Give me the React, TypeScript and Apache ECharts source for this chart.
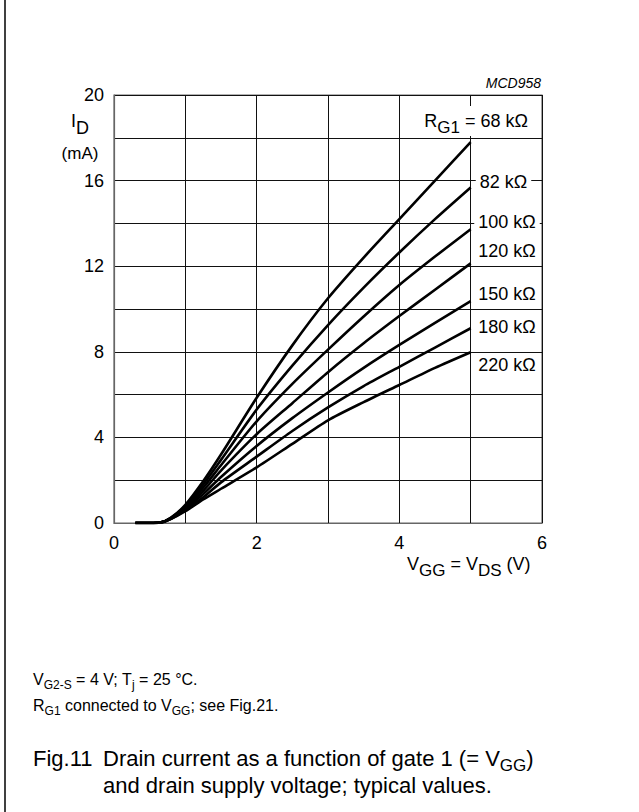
import React, { useEffect, useRef } from 'react';
import * as echarts from 'echarts';

// V_GG = V_DS (V)
const vgg = [0.3, 0.5, 0.65, 0.8, 1.0, 1.25, 1.5, 2.0, 2.5, 3.0, 3.5, 4.0, 4.5, 5.0];
// I_D (mA) for each R_G1
const id68 = [0, 0, 0.02, 0.25, 0.85, 1.95, 3.2, 5.85, 8.3, 10.5, 12.4, 14.2, 16.0, 17.8];
const id82 = [0, 0, 0.02, 0.24, 0.8, 1.8, 2.95, 5.3, 7.35, 9.25, 11.0, 12.64, 14.2, 15.68];
const id100 = [0, 0, 0.02, 0.23, 0.75, 1.65, 2.7, 4.75, 6.5, 8.1, 9.65, 11.12, 12.45, 13.73];
const id120 = [0, 0, 0.02, 0.22, 0.7, 1.5, 2.45, 4.15, 5.6, 7.05, 8.4, 9.67, 10.9, 12.13];
const id150 = [0, 0, 0.02, 0.21, 0.65, 1.35, 2.15, 3.6, 4.9, 6.1, 7.25, 8.32, 9.35, 10.37];
const id180 = [0, 0, 0.02, 0.2, 0.6, 1.2, 1.9, 3.1, 4.3, 5.4, 6.4, 7.3, 8.2, 9.1];
const id220 = [0, 0, 0.02, 0.19, 0.55, 1.1, 1.6, 2.6, 3.7, 4.8, 5.65, 6.45, 7.25, 7.98];

const curveNames = ['68 kΩ', '82 kΩ', '100 kΩ', '120 kΩ', '150 kΩ', '180 kΩ', '220 kΩ'];
const curveValues = [id68, id82, id100, id120, id150, id180, id220];

const xTickLabels = ['0', '2', '4', '6'];
const yTickLabels = ['0', '4', '8', '12', '16', '20'];

const FONT = '"Liberation Sans", Arial, Helvetica, sans-serif';

export default function App() {
  const ref = useRef<HTMLDivElement>(null);

  useEffect(() => {
    if (!ref.current) return;
    const chart = echarts.init(ref.current, null, { renderer: 'svg', width: 639, height: 812 });

    const series = curveValues.map((vals, k) => ({
      name: curveNames[k],
      type: 'line',
      data: vgg.map((x, i) => [x, vals[i]]),
      showSymbol: false,
      symbol: 'none',
      smooth: 0.25,
      silent: true,
      z: 3,
      lineStyle: { color: '#000', width: 2.6 },
    }));

    const labelY = [0, 181.5, 221.7, 250.7, 294, 327.3, 365];

    const curveLabels = curveNames.slice(1).map((name, i) => ({
      type: 'text',
      x: i === 0 ? 503.5 : 507,
      y: labelY[i + 1],
      z: 50,
      style: {
        text: name,
        fontSize: 18,
        fontFamily: FONT,
        fill: '#000',
        align: 'center',
        verticalAlign: 'middle',
        backgroundColor: '#fff',
        padding: [2, 4],
      },
    }));

    const subRich = (n: number, s: number, ln: number, ls: number) => ({
      n: { fontSize: n, lineHeight: ln, verticalAlign: 'middle', fontFamily: FONT },
      s: { fontSize: s, lineHeight: ls, verticalAlign: 'bottom', fontFamily: FONT },
    });

    chart.setOption({
      animation: false,
      backgroundColor: '#fff',
      grid: {
        left: 114,
        top: 95,
        right: 97,
        bottom: 289,
        show: true,
        borderColor: '#666',
        borderWidth: 1.2,
        backgroundColor: 'transparent',
      },
      xAxis: {
        type: 'value',
        min: 0,
        max: 6,
        interval: 1,
        axisLine: { show: true, lineStyle: { color: '#666', width: 1.2 } },
        axisTick: { show: false },
        axisLabel: {
          showMinLabel: true,
          showMaxLabel: true,
          formatter: (v: number) => (xTickLabels.includes(String(v)) ? String(v) : ''),
          fontSize: 18,
          fontFamily: FONT,
          color: '#000',
          margin: 11,
        },
        splitLine: { show: true, lineStyle: { color: '#111', width: 1 } },
      },
      yAxis: {
        type: 'value',
        min: 0,
        max: 20,
        interval: 2,
        axisLine: { show: true, lineStyle: { color: '#666', width: 1.2 } },
        axisTick: { show: false },
        axisLabel: {
          showMinLabel: true,
          showMaxLabel: true,
          formatter: (v: number) => (yTickLabels.includes(String(v)) ? String(v) : ''),
          fontSize: 18,
          fontFamily: FONT,
          color: '#000',
          margin: 10,
        },
        splitLine: { show: true, lineStyle: { color: '#111', width: 1 } },
      },
      series,
      graphic: [
        {
          type: 'line',
          z: 60,
          shape: { x1: 5, y1: 0, x2: 5, y2: 812 },
          style: { stroke: '#000', lineWidth: 1.5 },
        },
        {
          type: 'text',
          x: 541,
          y: 83,
          z: 50,
          style: {
            text: 'MCD958',
            fontSize: 14,
            fontStyle: 'italic',
            fontFamily: FONT,
            fill: '#000',
            align: 'right',
            verticalAlign: 'middle',
          },
        },
        {
          type: 'text',
          x: 71,
          y: 121,
          z: 50,
          style: {
            text: '{n|I}{s|D}',
            fontFamily: FONT,
            fill: '#000',
            align: 'left',
            verticalAlign: 'middle',
            rich: subRich(18, 18, 32, 16),
          },
        },
        {
          type: 'text',
          x: 80,
          y: 153,
          z: 50,
          style: {
            text: '(mA)',
            fontSize: 17,
            fontFamily: FONT,
            fill: '#000',
            align: 'center',
            verticalAlign: 'middle',
          },
        },
        {
          type: 'text',
          x: 531,
          y: 121,
          z: 50,
          style: {
            text: '{n|R}{s|G1}{n| = 68 kΩ}',
            fontFamily: FONT,
            fill: '#000',
            align: 'right',
            verticalAlign: 'middle',
            backgroundColor: '#fff',
            padding: [0, 3],
            rich: subRich(18, 17, 30, 16),
          },
        },
        ...curveLabels,
        {
          type: 'text',
          x: 407,
          y: 564,
          z: 50,
          style: {
            text: '{n|V}{s|GG}{n| = V}{s|DS}{n| (V)}',
            fontFamily: FONT,
            fill: '#000',
            align: 'left',
            verticalAlign: 'middle',
            rich: subRich(18, 17, 30, 16),
          },
        },
        {
          type: 'text',
          x: 33,
          y: 679,
          z: 50,
          style: {
            text: '{n|V}{s|G2-S}{n| = 4 V; T}{s|j}{n| = 25 °C.}',
            fontFamily: FONT,
            fill: '#000',
            align: 'left',
            verticalAlign: 'middle',
            rich: subRich(16, 12, 24, 15),
          },
        },
        {
          type: 'text',
          x: 33,
          y: 705,
          z: 50,
          style: {
            text: '{n|R}{s|G1}{n| connected to V}{s|GG}{n|; see Fig.21.}',
            fontFamily: FONT,
            fill: '#000',
            align: 'left',
            verticalAlign: 'middle',
            rich: subRich(16, 12, 24, 15),
          },
        },
        {
          type: 'text',
          x: 33,
          y: 758,
          z: 50,
          style: {
            text: 'Fig.11',
            fontSize: 22,
            fontFamily: FONT,
            fill: '#000',
            align: 'left',
            verticalAlign: 'middle',
          },
        },
        {
          type: 'text',
          x: 103,
          y: 758,
          z: 50,
          style: {
            text: '{n|Drain current as a function of gate 1 (= V}{s|GG}{n|)}',
            fontFamily: FONT,
            fill: '#000',
            align: 'left',
            verticalAlign: 'middle',
            rich: subRich(22, 17, 32, 20),
          },
        },
        {
          type: 'text',
          x: 103,
          y: 785,
          z: 50,
          style: {
            text: 'and drain supply voltage; typical values.',
            fontSize: 22,
            fontFamily: FONT,
            fill: '#000',
            align: 'left',
            verticalAlign: 'middle',
          },
        },
      ],
    });

    return () => chart.dispose();
  }, []);

  return (
    <div
      ref={ref}
      style={{ position: 'fixed', left: 0, top: 0, width: 639, height: 812, background: '#fff' }}
    />
  );
}
